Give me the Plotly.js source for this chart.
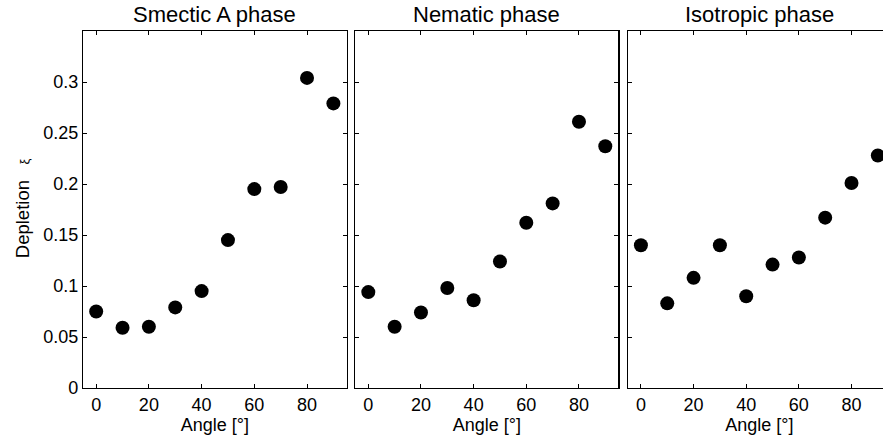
<!DOCTYPE html>
<html>
<head>
<meta charset="utf-8">
<script src="https://cdn.plot.ly/plotly-3.0.1.min.js"></script>
<style>
html, body { margin: 0; padding: 0; overflow: hidden; background: #fff; }
#chart { width: 900px; height: 439px; }
</style>
</head>
<body>
<div id="chart"></div>
<script>
// Data
const angles = [0, 10, 20, 30, 40, 50, 60, 70, 80, 90];
const smecticA = [0.075, 0.059, 0.060, 0.079, 0.095, 0.145, 0.195, 0.197, 0.304, 0.279];
const nematic = [0.094, 0.060, 0.074, 0.098, 0.086, 0.124, 0.162, 0.181, 0.261, 0.237];
const isotropic = [0.140, 0.083, 0.108, 0.140, 0.090, 0.121, 0.128, 0.167, 0.201, 0.228];
const panelTitles = ["Smectic A phase", "Nematic phase", "Isotropic phase"];
const xTickVals = [0, 20, 40, 60, 80];
const yTickVals = [0, 0.05, 0.1, 0.15, 0.2, 0.25, 0.3];
const yTickText = ["0", "0.05", "0.1", "0.15", "0.2", "0.25", "0.3"];

const series = [smecticA, nematic, isotropic];
const domains = [[0, 0.3262], [0.3368, 0.6627], [0.6742, 1]];
const font = "Liberation Sans, Arial, Helvetica, sans-serif";

const traces = series.map((ys, i) => ({
  type: "scatter",
  mode: "markers",
  x: angles,
  y: ys,
  xaxis: i === 0 ? "x" : "x" + (i + 1),
  yaxis: i === 0 ? "y" : "y" + (i + 1),
  marker: { size: 14, color: "#000" },
  hoverinfo: "x+y"
}));

const layout = {
  width: 900,
  height: 439,
  margin: { l: 83, r: 9, t: 31, b: 51.3, pad: 0 },
  paper_bgcolor: "#fff",
  plot_bgcolor: "#fff",
  showlegend: false,
  font: { family: font, size: 18, color: "#000" },
  annotations: [],
};

for (let i = 0; i < 3; i++) {
  const s = i === 0 ? "" : String(i + 1);
  layout["xaxis" + s] = {
    domain: domains[i],
    anchor: "y" + s,
    range: [-5, 95],
    tickvals: xTickVals,
    ticks: "inside",
    ticklen: 4,
    tickcolor: "#000",
    mirror: "ticks",
    showline: true,
    linecolor: "#000",
    linewidth: 1.2,
    showgrid: false,
    zeroline: false,
    tickfont: { family: font, size: 18, color: "#000" },
    title: { text: "Angle [°]", font: { family: font, size: 18, color: "#000" }, standoff: 3 }
  };
  layout["yaxis" + s] = {
    domain: [0, 1],
    anchor: "x" + s,
    range: [0, 0.35],
    tickvals: yTickVals,
    ticktext: yTickText,
    showticklabels: i === 0,
    ticks: "inside",
    ticklen: 4,
    tickcolor: "#000",
    mirror: "ticks",
    showline: true,
    linecolor: "#000",
    linewidth: 1.2,
    showgrid: false,
    zeroline: false,
    tickfont: { family: font, size: 18, color: "#000" }
  };
  layout.annotations.push({
    text: panelTitles[i],
    xref: "paper", yref: "paper",
    x: (domains[i][0] + domains[i][1]) / 2,
    y: 1.045,
    xanchor: "center", yanchor: "middle",
    showarrow: false,
    font: { family: font, size: 22, color: "#000" }
  });
}

layout.annotations.push({
  text: 'Depletion   <span style="font-size:13px">ξ</span>',
  xref: "paper", yref: "paper",
  x: (22 - 83) / 808.4,
  y: (387.7 - 208) / 356.7,
  xanchor: "center", yanchor: "middle",
  textangle: -90,
  showarrow: false,
  font: { family: font, size: 18.5, color: "#000" }
});

Plotly.newPlot("chart", traces, layout, { displayModeBar: false, staticPlot: true });
</script>
</body>
</html>
